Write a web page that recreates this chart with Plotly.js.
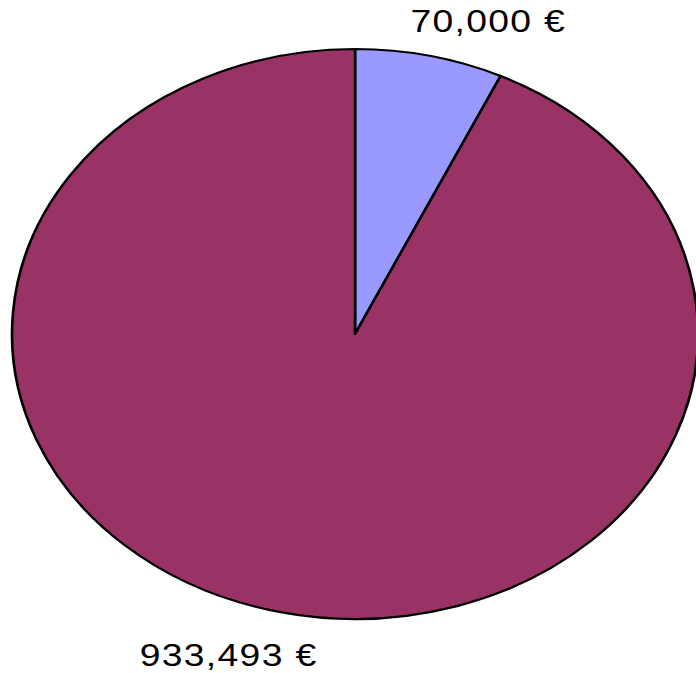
<!DOCTYPE html>
<html>
<head>
<meta charset="utf-8">
<script src="https://cdn.plot.ly/plotly-3.0.1.min.js"></script>
<style>
html, body { margin:0; padding:0; overflow:hidden; background:#fff; width:696px; height:673px; }
#chart { width:600px; height:673px; transform: scaleX(1.2035); transform-origin: 0 0; }
.annotation-text { letter-spacing: 1.1px; }
</style>
</head>
<body>
<div id="chart"></div>
<script>
const categories = ["Part A", "Part B"];
const values = [70000, 933493];
const colors = ["#9999FF", "#993366"];
const labelX = [405, 190];
const labelY = [21, 655];

const W = 600, H = 673;
const fmt = v => v.toLocaleString('en-US') + ' €';

const data = [{
  type: 'pie',
  labels: categories,
  values: values,
  sort: false,
  direction: 'clockwise',
  rotation: 0,
  textinfo: 'none',
  hoverinfo: 'none',
  marker: { colors: colors, line: { color: '#000000', width: 2.2 } },
  domain: { x: [10 / W, 580 / W], y: [(H - 619) / H, (H - 49) / H] },
  showlegend: false
}];

const annotations = values.map((v, i) => ({
  text: fmt(v),
  xref: 'paper', yref: 'paper',
  x: labelX[i] / W, y: (H - labelY[i]) / H,
  xanchor: 'center', yanchor: 'middle',
  showarrow: false,
  font: { family: 'Liberation Sans, Arial, sans-serif', size: 31, color: '#000000' }
}));

const layout = {
  width: W, height: H,
  margin: { l: 0, r: 0, t: 0, b: 0 },
  paper_bgcolor: '#ffffff',
  plot_bgcolor: '#ffffff',
  showlegend: false,
  annotations: annotations
};

Plotly.newPlot('chart', data, layout, { displayModeBar: false, staticPlot: true });
</script>
</body>
</html>
